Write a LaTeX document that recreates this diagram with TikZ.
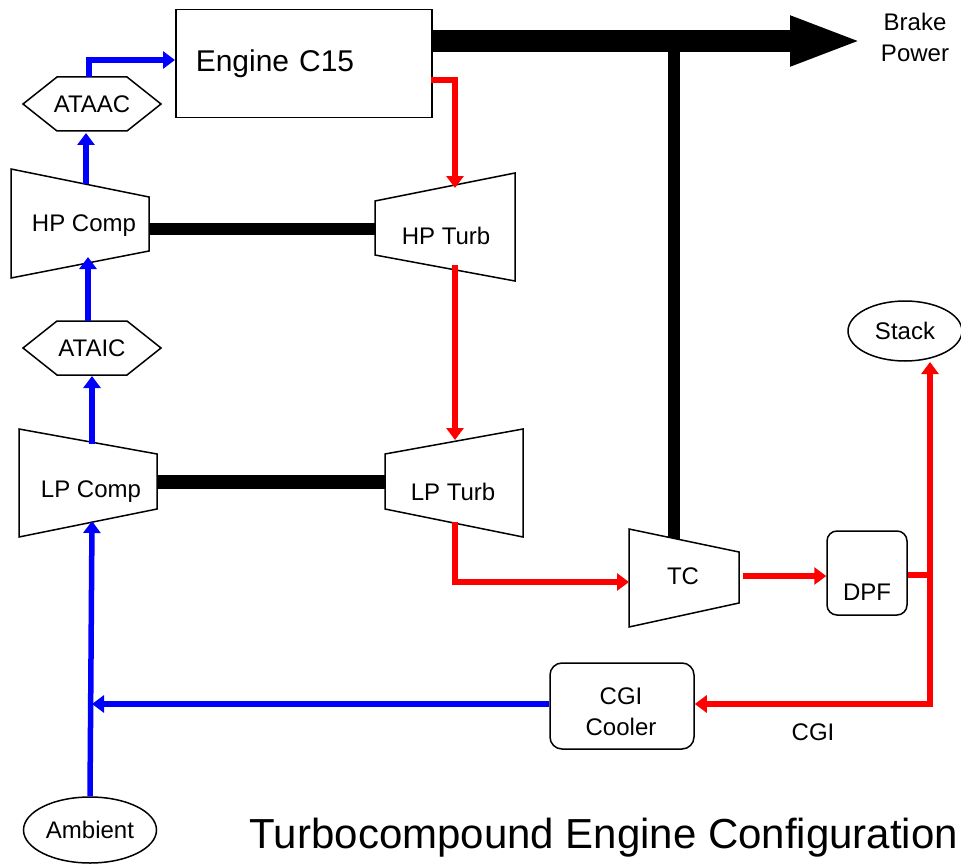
\documentclass[tikz,border=0pt]{standalone}
\usepackage{fontspec}
\setmainfont{Liberation Sans}
\usetikzlibrary{arrows.meta,shapes.geometric}
\definecolor{airblue}{RGB}{0,0,255}
\definecolor{gasred}{RGB}{255,0,0}

\begin{document}
\begin{tikzpicture}[x=1pt,y=-1pt,line join=miter,
  >={Triangle[length=12pt,width=17pt]},
  part/.style={draw,line width=1.5pt,fill=white},
  lbl/.style={font=\fontsize{24}{31}\selectfont,inner sep=0pt,align=center},
  air/.style={draw=airblue,line width=5.5pt,->},
  gas/.style={draw=gasred,line width=5.5pt,->},
  shaft/.style={line width=12pt}]
\path[use as bounding box] (0,0) rectangle (961,864);
% ports of the turbomachines and coolers
\coordinate (ataac-n) at (89,77);
\coordinate (ataac-s) at (86,133);
\coordinate (hpc-n) at (86,184);
\coordinate (hpc-s) at (88,257);
\coordinate (hpc-e) at (149,229);
\coordinate (ataic-n) at (88,321);
\coordinate (ataic-s) at (92,376);
\coordinate (lpc-n) at (92,444);
\coordinate (lpc-s) at (92,521);
\coordinate (lpc-e) at (157,482);
\coordinate (hpt-n) at (455,188);
\coordinate (hpt-s) at (455,265);
\coordinate (hpt-w) at (375,229);
\coordinate (lpt-n) at (455,440);
\coordinate (lpt-s) at (455,522);
\coordinate (lpt-w) at (385,482);
\coordinate (tc-n) at (674,545);
\coordinate (tc-w) at (629,582);
\coordinate (tc-e) at (743,576);
\coordinate (eng-in) at (175,60);
\coordinate (eng-out) at (431,80);
\coordinate (eng-shaft) at (431,41);
\coordinate (power-tip) at (863,41);
\coordinate (power-tee) at (674,41);
\coordinate (cgi-tee) at (930,575);
\coordinate (cgi-bend) at (930,704);
\coordinate (stack-in) at (930,362);
\coordinate (amb-tee) at (92,704);
% shafts
\draw[shaft] (hpc-e) -- (hpt-w);
\draw[shaft,line width=14pt] (lpc-e) -- (lpt-w);
\draw[shaft] (power-tee) -- (tc-n);
\draw[line width=22pt,-{Triangle[length=73pt,width=45pt]}] (eng-shaft) -- (power-tip);
% engine and heat exchangers
\node[part,minimum width=256pt,minimum height=108pt,text width=216pt,inner xsep=20pt,align=left,anchor=north west,font=\fontsize{30}{32}\selectfont] (eng) at (175,9) {Engine C15};
\draw[part] (23,104) -- (57,77) -- (127,77) -- (161,104) -- (127,131) -- (57,131) -- cycle;
\node[lbl] (ataac) at (92,104) {ATAAC};
\draw[part] (23,348) -- (57,321) -- (127,321) -- (161,348) -- (127,375) -- (57,375) -- cycle;
\node[lbl] (ataic) at (92,348) {ATAIC};
% compressors and turbines
\draw[part] (11,169) -- (149,197) -- (149,251) -- (11,278) -- cycle;
\node[lbl] (hpc) at (84,226) {HP Comp};
\draw[part] (375,201) -- (515,173) -- (515,281) -- (375,255) -- cycle;
\node[lbl] (hpt) at (446,236) {HP Turb};
\draw[part] (19,429) -- (157,454) -- (157,509) -- (19,537) -- cycle;
\node[lbl] (lpc) at (91,492) {LP Comp};
\draw[part] (385,454) -- (523,429) -- (523,537) -- (385,509) -- cycle;
\node[lbl] (lpt) at (453,492) {LP Turb};
\draw[part] (629,529) -- (739,552) -- (739,603) -- (629,627) -- cycle;
\node[lbl] (tc) at (683,576) {TC};
% after-treatment
\node[part,rounded corners=10pt,minimum width=80pt,minimum height=84pt] (dpf) at (867,573) {};
\node[lbl] (dpf-lbl) at (867,592) {DPF};
\node[part,rounded corners=12pt,minimum width=144pt,minimum height=86pt] (cgic) at (622,706) {};
\node[lbl] (cgic-lbl) at (621,712) {CGI\\Cooler};
\node[part,ellipse,minimum width=114pt,minimum height=60pt,lbl,inner sep=0pt] (stack) at (905,331) {Stack};
\node[part,ellipse,minimum width=133pt,minimum height=66pt,lbl,inner sep=0pt] (amb) at (90,830) {Ambient};
% air side
\draw[air] (amb.north) -- (lpc-s);
\draw[air] (lpc-n) -- (ataic-s);
\draw[air] (ataic-n) -- (hpc-s);
\draw[air] (hpc-n) -- (ataac-s);
\draw[air] (ataac-n) |- (eng-in);
\draw[air] (cgic.west |- amb-tee) -- (amb-tee);
% gas side
\draw[gas] (eng-out) -| (hpt-n);
\draw[gas] (hpt-s) -- (lpt-n);
\draw[gas] (lpt-s) |- (tc-w);
\draw[gas] (tc-e) -- (dpf.west |- tc-e);
\draw[gas,-] (dpf.east |- cgi-tee) -- ([xshift=3pt]cgi-tee);
\draw[gas,<->] (stack-in) -- (cgi-bend) -- (cgic.east |- cgi-bend);
% texts
\node[lbl] (brake) at (915,37) {Brake\\Power};
\node[lbl] (cgi) at (813,732) {CGI};
\node[font=\fontsize{42}{44}\selectfont,inner sep=0pt] (title) at (604,838) {Turbocompound Engine Configuration};
\end{tikzpicture}
\end{document}
